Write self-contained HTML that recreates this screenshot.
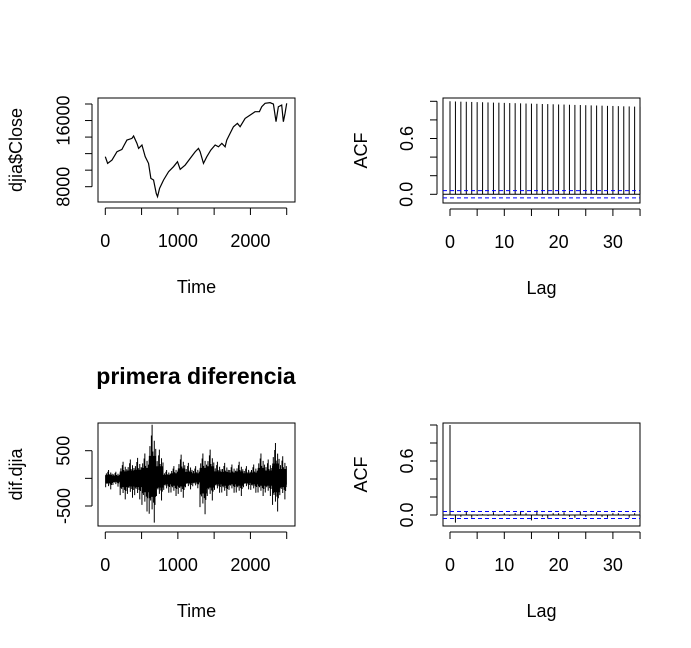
<!DOCTYPE html>
<html><head><meta charset="utf-8"><style>
body{margin:0;background:#fff;}
svg{display:block;font-family:"Liberation Sans",Arial,sans-serif;}
</style></head><body>
<svg id="c" width="691" height="648" viewBox="0 0 691 648"></svg>
<script>
// ---- data ----
const closeIdx=[0,32,92,161,229,261,298,367,390,436,459,505,550,596,628,665,702,720,748,803,872,940,995,1032,1101,1170,1239,1284,1307,1353,1399,1454,1514,1560,1606,1651,1674,1720,1766,1821,1858,1927,1995,2064,2124,2156,2202,2271,2317,2353,2385,2431,2454,2477,2500];
const closeVal=[11630,10820,11220,12230,12510,13040,13640,13840,14130,13240,12630,13040,11630,10820,9010,8810,7190,6790,7800,8810,9810,10420,11020,10100,10620,11430,12230,12630,12230,10820,11630,12430,13040,12830,13240,12830,13640,14450,15250,15660,15250,16260,16660,17070,17070,17670,18080,18160,17990,15860,17670,17870,15860,16870,18080];
const diffStart=[0,100,200,300,400,500,600,700,800,900,1000,1100,1200,1300,1400,1500,1600,1700,1800,1900,2000,2100,2200,2300,2400];
const diffHi=[150,120,300,340,370,450,970,520,150,220,430,280,220,450,520,300,280,250,300,220,250,450,340,640,400];
const diffLo=[-200,-150,-380,-350,-380,-600,-800,-400,-260,-320,-350,-200,-180,-650,-400,-260,-320,-260,-320,-200,-260,-320,-320,-600,-380];
const acf1=[1,.998,.996,.995,.993,.991,.99,.988,.986,.985,.983,.981,.98,.978,.976,.975,.973,.971,.97,.968,.966,.965,.963,.961,.96,.958,.956,.955,.953,.951,.95,.948,.946,.945,.943,.941];
const acf2=[1,-0.085,-0.02,0.04,-0.03,-0.01,0.01,-0.01,0.03,-0.01,0.02,-0.01,0.02,0.035,0.02,-0.06,0.05,-0.02,-0.04,0.02,0.02,0.03,-0.02,-0.03,0.04,-0.02,0.01,0.03,-0.02,-0.03,0.02,0.02,0.01,-0.03,0.02,-0.03];
const ciBand=0.039;
const timeTicks=[0,1000,2000];
const closeTicks=[8000,16000];
const diffTicks=[-500,500];
const lagTicks=[0,10,20,30];
const acfTicks=[0,0.6];

const svg=document.getElementById('c');
const NS='http://www.w3.org/2000/svg';
function mk(tag,attrs,name,parent){const e=document.createElementNS(NS,tag);for(const k in attrs)e.setAttribute(k,attrs[k]);


(parent||svg).appendChild(e);return e;}
function txt(s,x,y,name,opts){const t=mk('text',Object.assign({x:x,y:y,'text-anchor':'middle','font-size':18,fill:'#000'},opts||{}),name);t.textContent=s;return t;}

function panel(p){
  const g=mk('g',{},p.name);
  mk('rect',{x:p.x0,y:p.y0,width:p.x1-p.x0,height:p.y1-p.y0,fill:'none',stroke:'#000','stroke-width':1},p.name+'-box',g);
  const sx=v=>p.xa+(v-p.xd0)*(p.xb-p.xa)/(p.xd1-p.xd0);
  const sy=v=>p.ya+(v-p.yd0)*(p.yb-p.ya)/(p.yd1-p.yd0);
  mk('line',{x1:sx(p.xt0),x2:sx(p.xt1),y1:p.y1+6,y2:p.y1+6,stroke:'#000'},p.name+'-x-axis',g);
  for(let v=p.xt0;v<=p.xt1+1e-9;v+=p.xstep){mk('line',{x1:sx(v),x2:sx(v),y1:p.y1+6,y2:p.y1+13,stroke:'#000'},'x-tick',g);}
  p.xlabels.forEach(v=>txt(String(v),sx(v),p.y1+45,'x-tick-label'));
  mk('line',{x1:p.x0-6,x2:p.x0-6,y1:sy(p.yt0),y2:sy(p.yt1),stroke:'#000'},p.name+'-y-axis',g);
  for(let v=p.yt0;v<=p.yt1+1e-9;v+=p.ystep){mk('line',{x1:p.x0-6,x2:p.x0-13,y1:sy(v),y2:sy(v),stroke:'#000'},'y-tick',g);}
  const lx=p.x0-p.lblOff;
  p.ylabels.forEach(v=>{const yy=sy(v);txt(p.yfmt(v),lx,yy,'y-tick-label',{transform:`rotate(-90 ${lx} ${yy})`,'dominant-baseline':'middle'});});
  txt(p.xtitle,(p.x0+p.x1)/2,p.y1+91,'x-axis-title');
  const tx=p.x0-p.titleOff,ty=(p.y0+p.y1)/2;
  txt(p.ytitle,tx,ty,'y-axis-title',{transform:`rotate(-90 ${tx} ${ty})`,'dominant-baseline':'middle'});
  return {g,sx,sy};
}

// Panel 1: close
let P=panel({name:'close-panel',x0:98,x1:295,y0:98,y1:202,xa:105.3,xb:286.7,xd0:0,xd1:2500,ya:186.7,yb:104,yd0:8000,yd1:18000,
 xt0:0,xt1:2500,xstep:500,xlabels:timeTicks,yt0:8000,yt1:18000,ystep:2000,ylabels:closeTicks,yfmt:v=>String(v),xtitle:'Time',ytitle:'djia$Close',lblOff:33,titleOff:81});
mk('polyline',{points:closeIdx.map((d,i)=>P.sx(d)+','+P.sy(closeVal[i])).join(' '),fill:'none',stroke:'#000','stroke-width':1.2},'close-line',P.g);

// Panel 2: ACF close
P=panel({name:'acf-close-panel',x0:443,x1:640,y0:98,y1:203,xa:450,xb:504.3,xd0:0,xd1:10,ya:194.3,yb:101.3,yd0:0,yd1:1,
 xt0:0,xt1:35,xstep:5,xlabels:lagTicks,yt0:0,yt1:1,ystep:0.2,ylabels:acfTicks,yfmt:v=>v.toFixed(1),xtitle:'Lag',ytitle:'ACF',lblOff:35,titleOff:81});
mk('line',{x1:443,x2:640,y1:P.sy(0),y2:P.sy(0),stroke:'#000'},'zero-line',P.g);
acf1.forEach((v,i)=>mk('line',{x1:P.sx(i),x2:P.sx(i),y1:P.sy(0),y2:P.sy(v),stroke:'#000'},'acf-bar-lag-'+i,P.g));
[ciBand,-ciBand].forEach(c=>mk('line',{x1:443,x2:640,y1:P.sy(c),y2:P.sy(c),stroke:'#00f','stroke-dasharray':'4 3'},'confidence-band',P.g));

// Title
txt('primera diferencia',196,384,'panel-title',{'font-size':23,'font-weight':'bold'});

// Panel 3: diff
P=panel({name:'diff-panel',x0:98,x1:295,y0:423,y1:526,xa:105.3,xb:286.7,xd0:0,xd1:2500,ya:506,yb:450.7,yd0:-500,yd1:500,
 xt0:0,xt1:2500,xstep:500,xlabels:timeTicks,yt0:-500,yt1:500,ystep:500,ylabels:diffTicks,yfmt:v=>String(v),xtitle:'Time',ytitle:'dif.djia',lblOff:33,titleOff:81});
const frac=[0.35,0.6,0.3,0.8,0.45,0.5,0.3,0.7,0.4,0.55];
let core='',spikes='';
diffStart.forEach((s,i)=>{const a=P.sx(s),b=P.sx(Math.min(s+100,2500));
 core+=`M${a},${P.sy(diffHi[i]*0.42)}H${b}V${P.sy(diffLo[i]*0.42)}H${a}Z`;
 const n=frac.length;
 for(let k=0;k<n;k++){const x=a+(b-a)*(k+0.5)/n;const fh=(k===4)?1:frac[k],fl=(k===7)?1:frac[(k+3)%n];
   spikes+=`M${x.toFixed(2)},${P.sy(diffHi[i]*fh).toFixed(2)}V${P.sy(diffLo[i]*fl).toFixed(2)}`;}});
mk('path',{d:core,fill:'#000'},'diff-series-core',P.g);
mk('path',{d:spikes,stroke:'#000','stroke-width':1,fill:'none'},'diff-series-spikes',P.g);

// Panel 4: ACF diff
P=panel({name:'acf-diff-panel',x0:443,x1:640,y0:423,y1:526,xa:450,xb:504.3,xd0:0,xd1:10,ya:515,yb:425,yd0:0,yd1:1,
 xt0:0,xt1:35,xstep:5,xlabels:lagTicks,yt0:0,yt1:1,ystep:0.2,ylabels:acfTicks,yfmt:v=>v.toFixed(1),xtitle:'Lag',ytitle:'ACF',lblOff:35,titleOff:81});
mk('line',{x1:443,x2:640,y1:P.sy(0),y2:P.sy(0),stroke:'#000'},'zero-line',P.g);
acf2.forEach((v,i)=>mk('line',{x1:P.sx(i),x2:P.sx(i),y1:P.sy(0),y2:P.sy(v),stroke:'#000'},'acf-bar-lag-'+i,P.g));
[ciBand,-ciBand].forEach(c=>mk('line',{x1:443,x2:640,y1:P.sy(c),y2:P.sy(c),stroke:'#00f','stroke-dasharray':'4 3'},'confidence-band',P.g));
</script>
</body></html>
